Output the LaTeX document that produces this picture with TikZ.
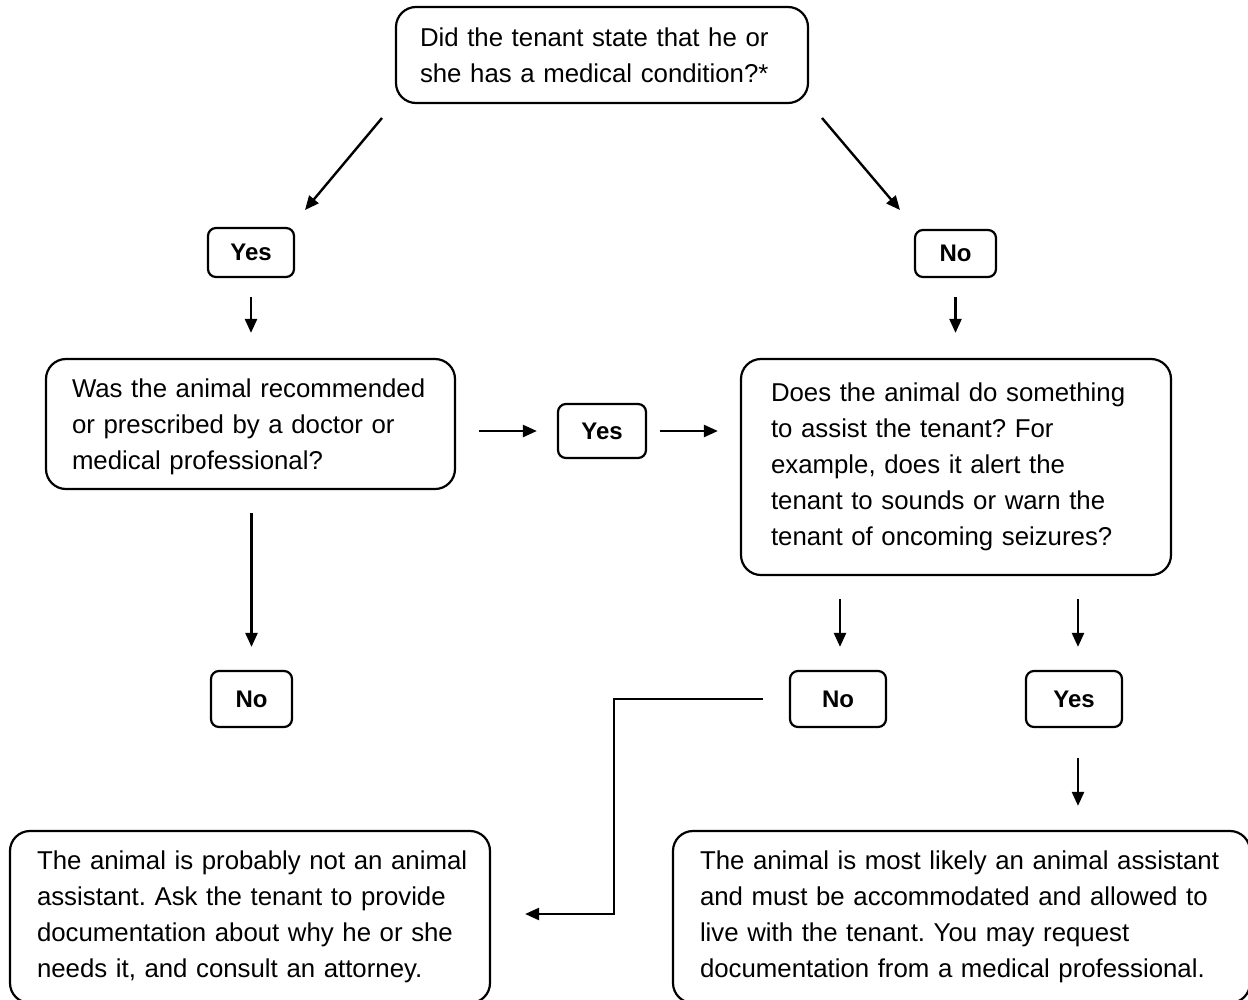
\documentclass[tikz,border=0pt]{standalone}
\usepackage{fontspec}
\setmainfont{Liberation Sans}
\usetikzlibrary{arrows.meta}
\tikzset{
  big/.style={draw, line width=2.2pt, rounded corners=20pt, align=left,
    font=\frenchspacing\fontsize{25.8}{36}\selectfont, inner ysep=0pt},
  small/.style={draw, line width=2.2pt, rounded corners=8pt,
    font=\bfseries\fontsize{24}{28}\selectfont, inner sep=0pt},
  arr/.style={line width=2.4pt, -{Triangle[length=14pt,width=12pt]}}
}
\begin{document}
\begin{tikzpicture}[x=1pt,y=-1pt]
\clip (0,0) rectangle (1248,999);
\fill[white] (0,0) rectangle (1248,999);
% big boxes
\node[big, minimum width=412pt, minimum height=96pt, text width=364pt, inner xsep=24pt] (q1) at (602,55)
  {\mbox{Did the tenant state that he or}\\\mbox{she has a medical condition?*}};
\node[big, minimum width=409pt, minimum height=130pt, text width=357pt, inner xsep=26pt] (q2) at (250.5,424)
  {\mbox{\rule{0pt}{25pt}Was the animal recommended}\\\mbox{or prescribed by a doctor or}\\\mbox{medical professional?}};
\node[big, minimum width=430pt, minimum height=216pt, text width=370pt, inner xsep=30pt] (q3) at (956,467)
  {\mbox{Does the animal do something}\\\mbox{to assist the tenant? For}\\\mbox{example, does it alert the}\\\mbox{tenant to sounds or warn the}\\\mbox{tenant of oncoming seizures?}};
\node[big, minimum width=480pt, minimum height=172pt, text width=426pt, inner xsep=27pt] (r1) at (250,917)
  {\mbox{The animal is probably not an animal}\\\mbox{assistant. Ask the tenant to provide}\\\mbox{documentation about why he or she}\\\mbox{needs it, and consult an attorney.}};
\node[big, minimum width=577pt, minimum height=172pt, text width=523pt, inner xsep=27pt] (r2) at (961.5,917)
  {\mbox{The animal is most likely an animal assistant}\\\mbox{and must be accommodated and allowed to}\\\mbox{live with the tenant. You may request}\\\mbox{documentation from a medical professional.}};
% small boxes
\node[small, minimum width=86pt, minimum height=49pt] (yes1) at (251,252.5) {Yes};
\node[small, minimum width=81pt, minimum height=47pt] (no1) at (955.5,253.5) {No};
\node[small, minimum width=88pt, minimum height=54pt] (yes2) at (602,431) {Yes};
\node[small, minimum width=81pt, minimum height=56pt] (no2) at (251.5,699) {No};
\node[small, minimum width=96pt, minimum height=56pt] (no3) at (838,699) {No};
\node[small, minimum width=96pt, minimum height=56pt] (yes3) at (1074,699) {Yes};
% diagonal arrow ends
\coordinate (d1s) at (382,118);
\coordinate (d1e) at (305,210);
\coordinate (d2s) at (822,118);
\coordinate (d2e) at (900,210);
\coordinate (bend) at (614,914);
% connectors
\draw[arr] (d1s) -- (d1e);
\draw[arr] (d2s) -- (d2e);
\draw[arr, shorten <=19pt, shorten >=25pt] (yes1) -- (yes1 |- q2.north);
\draw[arr, shorten <=19pt, shorten >=25pt] (no1) -- (no1 |- q3.north);
\draw[arr, shorten <=23pt, shorten >=20pt] (q2.east |- yes2) -- (yes2);
\draw[arr, shorten <=13pt, shorten >=22pt] (yes2) -- (yes2 -| q3.west);
\draw[arr, shorten <=23pt, shorten >=23pt] (q2.south -| no2) -- (no2);
\draw[arr, shorten <=23pt, shorten >=23pt] (q3.south -| 840,0) -- (no3.north -| 840,0);
\draw[arr, shorten <=23pt, shorten >=23pt] (q3.south -| 1078,0) -- (yes3.north -| 1078,0);
\draw[arr, shorten <=30pt, shorten >=24pt] (yes3.south -| 1078,0) -- (r2.north -| 1078,0);
\draw[arr, shorten <=26pt, shorten >=34pt] (no3.west) -| (bend) -- (r1.east |- bend);
\end{tikzpicture}
\end{document}
